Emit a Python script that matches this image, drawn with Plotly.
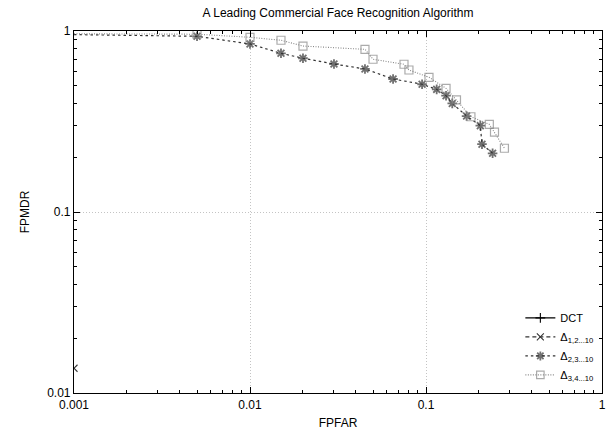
import plotly.graph_objects as go

# ---- data ----
dct_far = [None]
dct_mdr = [None]

d12_far = [0.001]
d12_mdr = [0.0137]

d23_far = [0.001, 0.005, 0.01, 0.015, 0.02, 0.03, 0.045, 0.065, 0.095, 0.115, 0.13, 0.141, 0.17, 0.2035, 0.208, 0.239]
d23_mdr = [0.955, 0.935, 0.848, 0.753, 0.707, 0.657, 0.617, 0.543, 0.508, 0.476, 0.439, 0.398, 0.339, 0.300, 0.237, 0.211]

d34_far = [0.001, 0.005, 0.01, 0.015, 0.02, 0.045, 0.05, 0.075, 0.08, 0.104, 0.13, 0.149, 0.18, 0.229, 0.245, 0.279]
d34_mdr = [0.965, 0.96, 0.923, 0.889, 0.826, 0.792, 0.698, 0.655, 0.609, 0.555, 0.482, 0.416, 0.336, 0.305, 0.276, 0.225]

x_ticks = [0.001, 0.01, 0.1, 1]
x_ticktext = ["0.001", "0.01", "0.1", "1"]
y_ticks = [0.01, 0.1, 1]
y_ticktext = ["0.01", "0.1", "1"]

# minor tick positions: 2..9 in each decade
x_minor = [m * 10.0 ** e for e in range(-3, 0) for m in range(2, 10)]
y_minor = [m * 10.0 ** e for e in range(-2, 0) for m in range(2, 10)]

FONT = "Liberation Sans, Arial, sans-serif"

fig = go.Figure()

# empty helper trace so the minor-tick overlay axes are drawn
fig.add_trace(go.Scatter(x=[None], y=[None], xaxis="x2", yaxis="y2",
                         showlegend=False, hoverinfo="skip", mode="markers"))

fig.add_trace(go.Scatter(
    x=dct_far, y=dct_mdr, name="DCT", mode="lines+markers",
    line=dict(color="black", width=1.1),
    marker=dict(symbol="cross-thin-open", size=7, line=dict(color="black", width=1.1)),
))
fig.add_trace(go.Scatter(
    x=d12_far, y=d12_mdr, name="Δ<sub>1,2...10</sub>", mode="lines+markers",
    line=dict(color="#333", width=1.1, dash="4px,3px"),
    marker=dict(symbol="x-thin-open", size=7, line=dict(color="#333", width=1.1)),
))
fig.add_trace(go.Scatter(
    x=d23_far, y=d23_mdr, name="Δ<sub>2,3...10</sub>", mode="lines+markers",
    line=dict(color="#333", width=1.2, dash="2.5px,3px"),
    marker=dict(symbol="asterisk-open", size=[0] + [8] * (len(d23_far) - 1),
                line=dict(color="black", width=1.8)),
))
fig.add_trace(go.Scatter(
    x=d34_far, y=d34_mdr, name="Δ<sub>3,4...10</sub>", mode="lines+markers",
    line=dict(color="#888", width=1.1, dash="1px,1.5px"),
    marker=dict(symbol="square-open", size=[0] + [8] * (len(d34_far) - 1),
                line=dict(color="#333", width=1.2)),
))

axis_common = dict(
    type="log",
    showline=True, linecolor="black", linewidth=1.2, mirror="allticks",
    ticks="inside", ticklen=6, tickcolor="black", tickwidth=1,
    showgrid=True, gridcolor="#c4c4c4", griddash="1px,2px", gridwidth=1,
    zeroline=False,
    tickfont=dict(family=FONT, size=12, color="black"),
)

minor_common = dict(
    type="log", showline=False, showgrid=False, zeroline=False,
    ticks="inside", ticklen=3, tickcolor="black", tickwidth=1,
    mirror="allticks", showticklabels=False, tickmode="array",
)

fig.update_layout(
    xaxis=dict(**axis_common, range=[-3, 0], tickmode="array",
               tickvals=x_ticks, ticktext=x_ticktext,
               title=dict(text="FPFAR", font=dict(family=FONT, size=12, color="black"), standoff=8)),
    yaxis=dict(**axis_common, range=[-2, 0], tickmode="array",
               tickvals=y_ticks, ticktext=y_ticktext,
               title=dict(text="FPMDR", font=dict(family=FONT, size=12, color="black"), standoff=14)),
    xaxis2=dict(**minor_common, overlaying="x", side="bottom", range=[-3, 0],
                tickvals=x_minor, anchor="y2"),
    yaxis2=dict(**minor_common, overlaying="y", side="left", range=[-2, 0],
                tickvals=y_minor, anchor="x2"),
)

fig.update_layout(
    width=610, height=432,
    margin=dict(l=74, r=4, t=31, b=39),
    paper_bgcolor="white", plot_bgcolor="white",
    title=dict(text="A Leading Commercial Face Recognition Algorithm",
               font=dict(family=FONT, size=12, color="black"),
               x=0.5, xref="paper", xanchor="center", y=0.97, yanchor="middle"),
    font=dict(family=FONT, size=12, color="black"),
    legend=dict(x=0.995, y=0.01, xanchor="right", yanchor="bottom",
                bgcolor="white", borderwidth=0, tracegroupgap=0,
                itemwidth=30,
                font=dict(family=FONT, size=11, color="black")),
    showlegend=True,
)

fig.write_html("out.html")
